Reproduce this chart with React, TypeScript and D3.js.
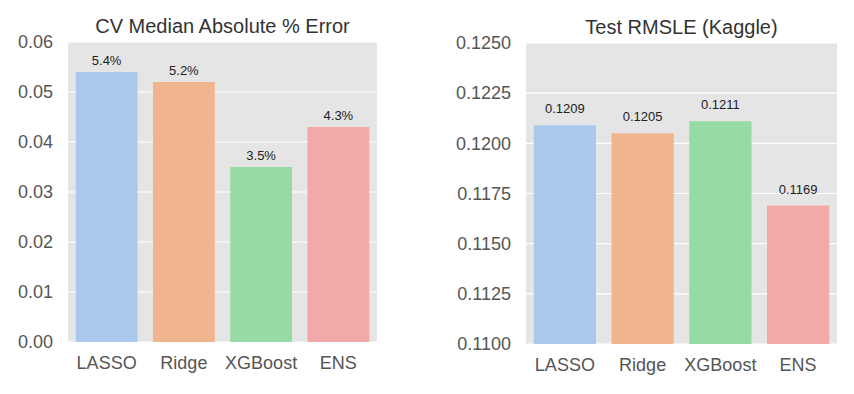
import { useEffect, useRef } from 'react'
import * as d3 from 'd3'

const models = ['LASSO', 'Ridge', 'XGBoost', 'ENS']
const colors = ['#a9c8ec', '#f0b58f', '#97dba4', '#f2a9a8']

const cvError = [0.054, 0.052, 0.035, 0.043]
const cvLabels = ['5.4%', '5.2%', '3.5%', '4.3%']
const cvTicks = [0, 0.01, 0.02, 0.03, 0.04, 0.05, 0.06]

const rmsle = [0.1209, 0.1205, 0.1211, 0.1169]
const rmsleLabels = ['0.1209', '0.1205', '0.1211', '0.1169']
const rmsleTicks = [0.11, 0.1125, 0.115, 0.1175, 0.12, 0.1225, 0.125]

const FONT = '"Liberation Sans", Arial, sans-serif'

type Panel = {
  title: string
  values: number[]
  labels: string[]
  ticks: number[]
  tickFmt: (v: number) => string
  left: number
  right: number
  top: number
  bottom: number
  labelGap: number
}

const panels: Panel[] = [
  {
    title: 'CV Median Absolute % Error',
    values: cvError,
    labels: cvLabels,
    ticks: cvTicks,
    tickFmt: d3.format('.2f'),
    left: 68,
    right: 377,
    top: 42,
    bottom: 342,
    labelGap: 7,
  },
  {
    title: 'Test RMSLE (Kaggle)',
    values: rmsle,
    labels: rmsleLabels,
    ticks: rmsleTicks,
    tickFmt: d3.format('.4f'),
    left: 526,
    right: 837,
    top: 43,
    bottom: 344,
    labelGap: 12,
  },
]

function App() {
  const ref = useRef<SVGSVGElement>(null)

  useEffect(() => {
    const svg = d3.select(ref.current)
    svg.selectAll('*').remove()

    panels.forEach((p) => {
      const x = d3
        .scaleBand()
        .domain(models)
        .range([p.left, p.right])
        .paddingInner(0.2)
        .paddingOuter(0.1)
      const y = d3
        .scaleLinear()
        .domain([p.ticks[0], p.ticks[p.ticks.length - 1]])
        .range([p.bottom, p.top])

      const g = svg.append('g')

      g.append('rect')
        .attr('x', p.left)
        .attr('y', p.top)
        .attr('width', p.right - p.left)
        .attr('height', p.bottom - p.top)
        .attr('fill', '#e5e5e5')

      g.selectAll('line.grid')
        .data(p.ticks)
        .join('line')
        .attr('class', 'grid')
        .attr('x1', p.left)
        .attr('x2', p.right)
        .attr('y1', (d) => y(d))
        .attr('y2', (d) => y(d))
        .attr('stroke', '#ffffff')
        .attr('stroke-width', 1.2)

      g.selectAll('text.tick')
        .data(p.ticks)
        .join('text')
        .attr('class', 'tick')
        .attr('x', p.left - 15)
        .attr('y', (d) => y(d))
        .attr('dy', '0.35em')
        .attr('text-anchor', 'end')
        .attr('font-family', FONT)
        .attr('font-size', 18)
        .attr('fill', '#555555')
        .text((d) => p.tickFmt(d))

      g.selectAll('rect.bar')
        .data(p.values)
        .join('rect')
        .attr('class', 'bar')
        .attr('x', (_, i) => x(models[i])!)
        .attr('width', x.bandwidth())
        .attr('y', (d) => y(d))
        .attr('height', (d) => p.bottom - y(d))
        .attr('fill', (_, i) => colors[i])

      g.selectAll('text.val')
        .data(p.values)
        .join('text')
        .attr('class', 'val')
        .attr('x', (_, i) => x(models[i])! + x.bandwidth() / 2)
        .attr('y', (d) => y(d) - p.labelGap)
        .attr('text-anchor', 'middle')
        .attr('font-family', FONT)
        .attr('font-size', 13)
        .attr('fill', '#222222')
        .text((_, i) => p.labels[i])

      g.selectAll('text.cat')
        .data(models)
        .join('text')
        .attr('class', 'cat')
        .attr('x', (d) => x(d)! + x.bandwidth() / 2)
        .attr('y', p.bottom + 27)
        .attr('text-anchor', 'middle')
        .attr('font-family', FONT)
        .attr('font-size', 18)
        .attr('fill', '#555555')
        .text((d) => d)

      g.append('text')
        .attr('x', (p.left + p.right) / 2)
        .attr('y', p.top - 9)
        .attr('text-anchor', 'middle')
        .attr('font-family', FONT)
        .attr('font-size', 20)
        .attr('fill', '#333333')
        .text(p.title)
    })
  }, [])

  return (
    <svg
      ref={ref}
      width={854}
      height={394}
      style={{ position: 'absolute', left: 0, top: 0, background: '#ffffff' }}
    />
  )
}

export default App
